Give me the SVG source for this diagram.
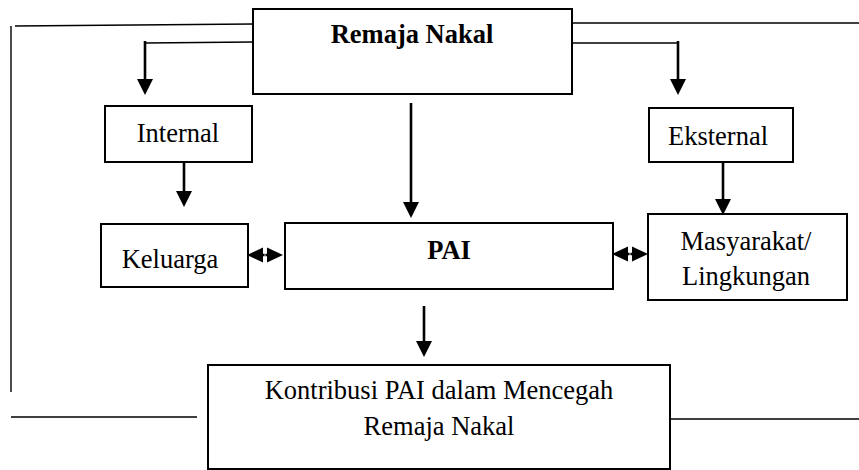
<svg xmlns="http://www.w3.org/2000/svg" width="859" height="470" viewBox="0 0 859 470">
<style>
.box{fill:#fff;stroke:#000;stroke-width:2}
.t{font-family:"Liberation Serif","Times New Roman",serif;font-size:26.5px;fill:#000;text-anchor:middle}
.b{font-weight:bold}
.thin{fill:none;stroke:#000;stroke-width:1.4}
.stem{fill:none;stroke:#000;stroke-width:2.6}
.head{fill:#000}
</style>
<defs>
<marker id="ah" markerUnits="userSpaceOnUse" markerWidth="17" markerHeight="17" refX="0" refY="8" orient="auto">
<path d="M0,0 L16,8 L0,16 z" fill="#000"/>
</marker>
</defs>
<g id="connectors">
<path class="thin" d="M11,26 L11,392"/>
<path class="thin" d="M15,26 L253,24"/>
<path class="thin" d="M145,43 L253,42"/>
<path class="thin" d="M572,23 L859,23"/>
<path class="thin" d="M572,43 L678,43"/>
<path class="thin" d="M11,417 L197,417"/>
<path class="thin" d="M670,419 L859,419"/>
<path class="stem" d="M145,41 L145,79" marker-end="url(#ah)"/>
<path class="stem" d="M678,41 L678,79" marker-end="url(#ah)"/>
<path class="stem" d="M411,103 L411,202" marker-end="url(#ah)"/>
<path class="stem" d="M184,153 L184,191" marker-end="url(#ah)"/>
<path class="stem" d="M723,162 L723,199" marker-end="url(#ah)"/>
<path class="stem" d="M424,306 L424,341" marker-end="url(#ah)"/>
<g id="dbl-left">
<path class="head" d="M247,255 L263,247.5 L263,262.5 z"/>
<path class="head" d="M283,255 L267,247.5 L267,262.5 z"/>
<path class="stem" d="M262,255 L264.6,255 M265.4,255 L268,255"/>
</g>
<g id="dbl-right">
<path class="head" d="M612,254 L628,246.5 L628,261.5 z"/>
<path class="head" d="M648,254 L632,246.5 L632,261.5 z"/>
<path class="stem" d="M627,254 L629.6,254 M630.4,254 L633,254"/>
</g>
</g>
<g id="remaja">
<rect class="box" x="253" y="9" width="319" height="85"/>
<text class="t b" x="412" y="43">Remaja Nakal</text>
</g>
<g id="internal">
<rect class="box" x="105" y="106" width="147" height="56"/>
<text class="t" x="178" y="142">Internal</text>
</g>
<g id="eksternal">
<rect class="box" x="649" y="108" width="144" height="54"/>
<text class="t" x="718" y="145">Eksternal</text>
</g>
<g id="keluarga">
<rect class="box" x="101" y="224" width="147" height="63"/>
<text class="t" x="170" y="268">Keluarga</text>
</g>
<g id="pai">
<rect class="box" x="285" y="223" width="328" height="66"/>
<text class="t b" x="449" y="259">PAI</text>
</g>
<g id="masyarakat">
<rect class="box" x="648" y="214" width="199" height="86"/>
<text class="t" x="746" y="250">Masyarakat/</text>
<text class="t" x="746" y="285">Lingkungan</text>
</g>
<g id="kontribusi">
<rect class="box" x="208" y="365" width="462" height="104"/>
<text class="t" x="439" y="399">Kontribusi PAI dalam Mencegah</text>
<text class="t" x="439" y="435">Remaja Nakal</text>
</g>
</svg>
